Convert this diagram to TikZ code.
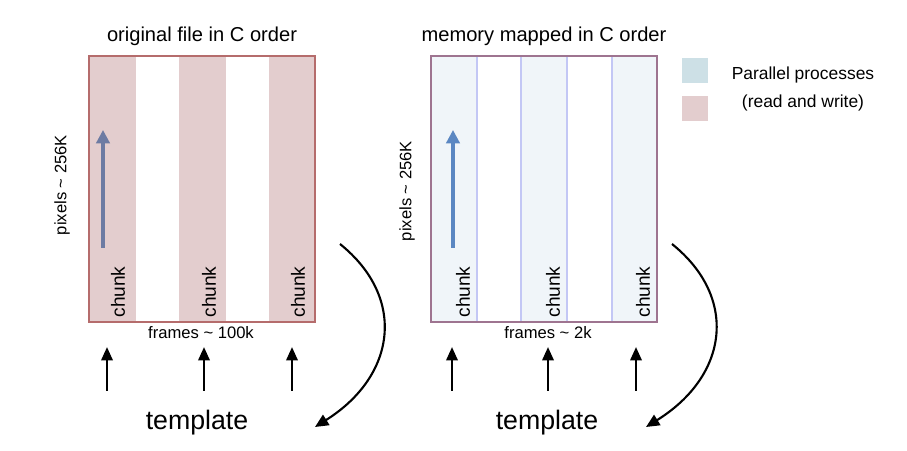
\documentclass[tikz,border=0pt]{standalone}
\usepackage{fontspec}
\setmainfont{Liberation Sans}
\usetikzlibrary{arrows.meta}
\definecolor{chunkpink}{HTML}{E3CDCE}
\definecolor{boxred}{HTML}{B56C6C}
\definecolor{chunkblue}{HTML}{F0F5F9}
\definecolor{legendblue}{HTML}{CDE0E6}
\definecolor{stripeedge}{HTML}{C3C7F5}
\definecolor{boxpurple}{HTML}{9E7490}
\definecolor{scanslate}{HTML}{6D7BA3}
\definecolor{scanblue}{HTML}{5B87C2}
\tikzset{
  titlelbl/.style={inner sep=0pt, font=\fontsize{14.3}{16}\selectfont},
  chunklbl/.style={rotate=90, inner sep=0pt, font=\fontsize{13.6}{15}\selectfont},
  axislbl/.style={inner sep=0pt, font=\fontsize{11.8}{13}\selectfont},
  legendlbl/.style={inner sep=0pt, font=\fontsize{12.4}{14}\selectfont},
  templbl/.style={inner sep=0pt, font=\fontsize{19}{21}\selectfont},
  feedarrow/.style={-{Triangle[length=9.5pt,width=8pt]}, line width=1.8pt},
  scanarrow/.style={-{Triangle[length=9.5pt,width=9.5pt]}, line width=2.2pt},
  wraparrow/.style={-{Triangle[length=9.5pt,width=8.5pt]}, line width=1.5pt}
}
\begin{document}
\begin{tikzpicture}[x=0.025cm, y=-0.025cm]
\useasboundingbox (0,0) rectangle (907,451);
% original file: pink stripes
\foreach \a/\b in {89/136,179/226,269/315}
  \fill[chunkpink] (\a,56) rectangle (\b,322);
\draw[boxred, line width=0.9pt] (89,56) rectangle (315,322);
% memory mapped: blue stripes
\foreach \a/\b in {431/477,521/567,612/657}
  \filldraw[fill=chunkblue, draw=stripeedge, line width=0.8pt] (\a,56) rectangle (\b,322);
\draw[boxpurple, line width=0.9pt] (431,56) rectangle (657,322);

\node[titlelbl] (origtitle) at (202,36) {original file in C order};
\node[titlelbl] (mmaptitle) at (544,36) {memory mapped in C order};

\foreach \x [count=\i] in {118,209,298}
  \node[chunklbl] (lchunk\i) at (\x,292) {chunk};
\foreach \x [count=\i] in {463,553,643}
  \node[chunklbl] (rchunk\i) at (\x,292) {chunk};

\node[axislbl, rotate=90] (lpix) at (62,185) {pixels \textasciitilde{} 256K};
\node[axislbl, rotate=90] (rpix) at (407,191) {pixels \textasciitilde{} 256K};
\node[axislbl] (lframes) at (201,333) {frames \textasciitilde{} 100k};
\node[axislbl] (rframes) at (548,333) {frames \textasciitilde{} 2k};

% scan direction
\coordinate (lscan0) at (103,248);
\coordinate (lscan1) at (103,130);
\draw[scanarrow, scanslate] (lscan0) -- (lscan1);
\coordinate (rscan0) at (453,248);
\coordinate (rscan1) at (453,130);
\draw[scanarrow, scanblue] (rscan0) -- (rscan1);

% template feeds
\foreach \x [count=\i] in {107,204,292} {
  \coordinate (lfeed\i) at (\x,391);
  \coordinate (ltip\i) at (\x,347);
  \draw[feedarrow] (lfeed\i) -- (ltip\i);
}
\foreach \x [count=\i] in {452,548,636} {
  \coordinate (rfeed\i) at (\x,391);
  \coordinate (rtip\i) at (\x,347);
  \draw[feedarrow] (rfeed\i) -- (rtip\i);
}

\node[templbl] (ltemp) at (197,423) {template};
\node[templbl] (rtemp) at (547,423) {template};

\coordinate (lwrap0) at (340,244);
\coordinate (lwrap1) at (315,427);
\draw[wraparrow] (lwrap0) .. controls (407,298) and (396,376) .. (lwrap1);
\coordinate (rwrap0) at (672,244);
\coordinate (rwrap1) at (646,427);
\draw[wraparrow] (rwrap0) .. controls (739,298) and (728,376) .. (rwrap1);

% legend
\fill[legendblue] (682,58) rectangle (708,83);
\fill[chunkpink] (682,96) rectangle (708,121);
\node[legendlbl] (legend1) at (803,75) {Parallel processes};
\node[legendlbl] (legend2) at (803,103) {(read and write)};
\end{tikzpicture}
\end{document}
